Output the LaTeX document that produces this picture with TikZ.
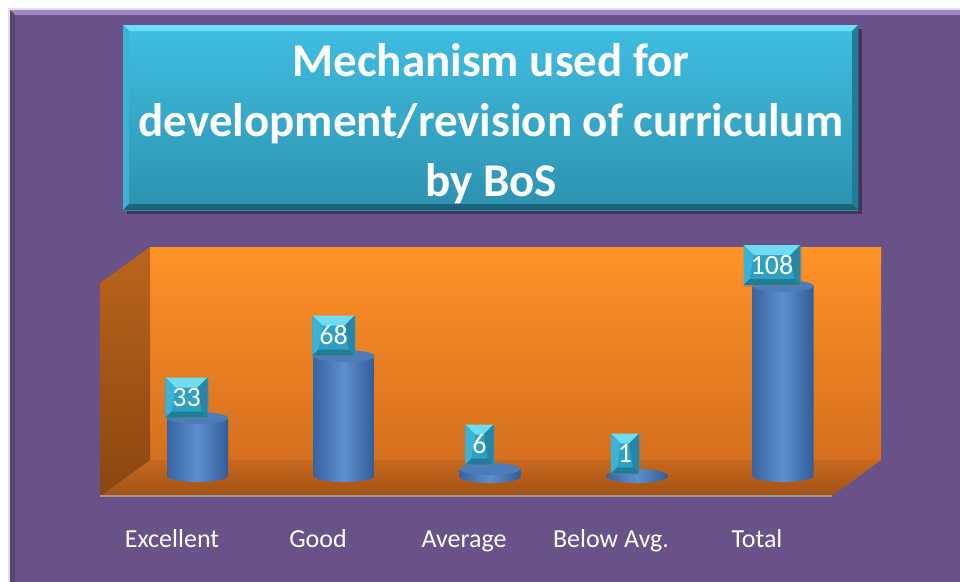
\documentclass[tikz,border=0pt]{standalone}
\usepackage{fontspec}
\setmainfont{Carlito}
\usetikzlibrary{calc,shadows}
\definecolor{frame}{RGB}{105,82,136}
\definecolor{framelt}{RGB}{158,134,190}
\definecolor{framedk}{RGB}{88,68,118}
\definecolor{titletop}{RGB}{64,190,226}
\definecolor{titlebot}{RGB}{44,146,175}
\definecolor{walltop}{RGB}{255,147,40}
\definecolor{wallbot}{RGB}{212,111,30}
\definecolor{floorback}{RGB}{200,104,28}
\definecolor{floorfront}{RGB}{160,83,22}
\definecolor{sidetop}{RGB}{186,101,28}
\definecolor{sidebot}{RGB}{138,70,16}
\definecolor{barL}{RGB}{56,100,160}
\definecolor{barM}{RGB}{92,143,208}
\definecolor{barR}{RGB}{50,92,150}
\definecolor{bartop}{RGB}{76,124,186}
\definecolor{valface}{RGB}{46,160,194}
\definecolor{valtop}{RGB}{112,220,242}
\definecolor{valside}{RGB}{62,178,212}
\definecolor{valdark}{RGB}{34,124,152}
\definecolor{edgeline}{RGB}{170,150,140}

\begin{document}
\begin{tikzpicture}[x=1pt,y=1pt]

\tikzstyle{titletext} = [text=white, font=\bfseries\fontsize{47}{60}\selectfont, align=center]
\tikzstyle{cattext} = [text=white, font=\fontsize{26}{26}\selectfont, anchor=base]
\tikzstyle{valbox} = [text=white, font=\fontsize{28}{28}\selectfont, inner xsep=7pt, inner ysep=0pt,
minimum height=40pt, fill=valface, drop shadow={opacity=.45, shadow xshift=1.5pt, shadow yshift=-1.5pt},
path picture={
 \fill[valtop] (path picture bounding box.north west) -- (path picture bounding box.north east)
   -- ([shift={(-10pt,-10pt)}]path picture bounding box.north east) -- ([shift={(10pt,-10pt)}]path picture bounding box.north west) -- cycle;
 \fill[valside] (path picture bounding box.north west) -- ([shift={(10pt,-10pt)}]path picture bounding box.north west)
   -- ([shift={(6pt,6pt)}]path picture bounding box.south west) -- (path picture bounding box.south west) -- cycle;
 \fill[valdark!70!valface] (path picture bounding box.north east) -- ([shift={(-10pt,-10pt)}]path picture bounding box.north east)
   -- ([shift={(-6pt,6pt)}]path picture bounding box.south east) -- (path picture bounding box.south east) -- cycle;
 \fill[valdark] (path picture bounding box.south west) -- ([shift={(6pt,6pt)}]path picture bounding box.south west)
   -- ([shift={(-6pt,6pt)}]path picture bounding box.south east) -- (path picture bounding box.south east) -- cycle;
}]

\useasboundingbox (0,0) rectangle (960,-581);
\clip (0,0) rectangle (960,-581);

% purple frame
\fill[black!12] (8,-8) rectangle (970,-590);
\fill[frame] (10,-10) rectangle (970,-590);
\fill[framelt] (10,-10) -- (970,-10) -- (970,-15) -- (15,-15) -- cycle;
\fill[framedk] (10,-10) -- (15,-15) -- (15,-590) -- (10,-590) -- cycle;

% title box
\fill[black, opacity=.35] (127,-29) rectangle (862,-214);
\shade[top color=titletop, bottom color=titlebot] (123,-25) rectangle (858,-210);
\fill[valtop] (123,-25) -- (858,-25) -- (852,-31) -- (129,-31) -- cycle;
\fill[valside] (123,-25) -- (129,-31) -- (129,-204) -- (123,-210) -- cycle;
\fill[valdark] (858,-25) -- (852,-31) -- (852,-204) -- (858,-210) -- cycle;
\fill[valdark!80!black] (123,-210) -- (129,-204) -- (852,-204) -- (858,-210) -- cycle;
\node[titletext] (title) at (491,-124) {Mechanism used for\\development/revision of curriculum\\by BoS};

% chart walls
\shade[top color=walltop, bottom color=wallbot] (150,-247) rectangle (881,-460);
\shade[top color=floorback, bottom color=floorfront] (150,-460) -- (881,-460) -- (832,-496) -- (100,-496) -- cycle;
\shade[top color=sidetop, bottom color=sidebot] (100,-283) -- (150,-247) -- (150,-460) -- (100,-496) -- cycle;
\draw[edgeline, line width=1.5pt] (100,-496) -- (832,-496);

% cylinders
\shade[left color=barL, right color=barR, middle color=barM] (167,-418) -- (167,-476) arc[start angle=180,end angle=360,x radius=30.5,y radius=6] -- (228,-418) -- cycle;
\fill[bartop] (197.5,-418) ellipse[x radius=30.5,y radius=6];

\shade[left color=barL, right color=barR, middle color=barM] (313.5,-356) -- (313.5,-476) arc[start angle=180,end angle=360,x radius=30.5,y radius=6] -- (374.5,-356) -- cycle;
\fill[bartop] (344,-356) ellipse[x radius=30.5,y radius=6];

\shade[left color=barL, right color=barR, middle color=barM] (459.5,-469) -- (459.5,-477) arc[start angle=180,end angle=360,x radius=30.5,y radius=6] -- (520.5,-469) -- cycle;
\fill[bartop] (490,-469) ellipse[x radius=30.5,y radius=6];

\shade[left color=barL, right color=barR, middle color=barM] (637,-476) ellipse[x radius=31,y radius=7];

\shade[left color=barL, right color=barR, middle color=barM] (752.5,-286) -- (752.5,-476) arc[start angle=180,end angle=360,x radius=30.5,y radius=6] -- (813.5,-286) -- cycle;
\fill[bartop] (783,-286) ellipse[x radius=30.5,y radius=6];

% values
\node[valbox] (v-exc) at (186.5,-397.5) {33};
\node[valbox] (v-good) at (333.5,-335.5) {68};
\node[valbox] (v-avg) at (479.5,-444.5) {6};
\node[valbox] (v-below) at (625,-453.5) {1};
\node[valbox] (v-total) at (772,-265) {108};

% categories
\node[cattext] (c-exc) at (172,-547) {Excellent};
\node[cattext] (c-good) at (318,-547) {Good};
\node[cattext] (c-avg) at (464,-547) {Average};
\node[cattext] (c-below) at (611,-547) {Below Avg.};
\node[cattext] (c-total) at (757,-547) {Total};

\end{tikzpicture}
\end{document}
